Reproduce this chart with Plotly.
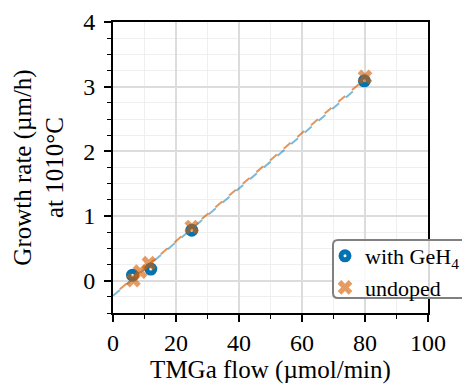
import plotly.graph_objects as go

# data
ge_flow = [6.2, 12.0, 25.0, 79.8]
ge_rate = [0.085, 0.18, 0.78, 3.09]
un_flow = [6.5, 8.6, 11.4, 25.0, 80.0]
un_rate = [0.01, 0.14, 0.27, 0.83, 3.15]
fit_flow = [0.0, 80.0]
ge_fit = [-0.235, 3.085]
un_fit = [-0.225, 3.12]

x_ticks = [0, 20, 40, 60, 80, 100]
y_ticks = [0, 1, 2, 3, 4]

FONT = "Liberation Serif"
BLUE = "#0173b2"
ORANGE_A = "rgba(213,94,0,0.62)"
BLUE_LINE = "rgba(1,115,178,0.5)"
ORANGE_LINE = "rgba(213,94,0,0.65)"

fig = go.Figure()
fig.add_trace(go.Scatter(x=fit_flow, y=ge_fit, mode="lines",
                         line=dict(color=BLUE_LINE, width=2, dash="9px,9px"),
                         showlegend=False, hoverinfo="skip"))
fig.add_trace(go.Scatter(x=fit_flow, y=un_fit, mode="lines",
                         line=dict(color=ORANGE_LINE, width=2, dash="0px,9px,9px,0px"),
                         showlegend=False, hoverinfo="skip"))
fig.add_trace(go.Scatter(x=ge_flow, y=ge_rate, mode="markers", name="with GeH<sub>4</sub>",
                         marker=dict(symbol="circle-open", size=8, color=BLUE,
                                     line=dict(width=5, color=BLUE))))
fig.add_trace(go.Scatter(x=un_flow, y=un_rate, mode="markers", name="undoped",
                         marker=dict(symbol="x", size=13, color=ORANGE_A,
                                     line=dict(width=0))))

# plot area in screen pixels (page has an 8px body margin)
OFF = 8
L, R, T, B = 113, 428, 22, 313
W, H = R - L, B - T
FIG_W, FIG_H = 470 - OFF, 385 - OFF
def px(x):
    return (x - L) / W
def py(y):
    return (B - y) / H
x0, x1, y0, y1, r = 333, 468, 240, 298, 5
path = (f"M {px(x0+r)},{py(y0)} L {px(x1-r)},{py(y0)} Q {px(x1)},{py(y0)} {px(x1)},{py(y0+r)} "
        f"L {px(x1)},{py(y1-r)} Q {px(x1)},{py(y1)} {px(x1-r)},{py(y1)} "
        f"L {px(x0+r)},{py(y1)} Q {px(x0)},{py(y1)} {px(x0)},{py(y1-r)} "
        f"L {px(x0)},{py(y0+r)} Q {px(x0)},{py(y0)} {px(x0+r)},{py(y0)} Z")
fig.add_shape(type="path", path=path, xref="paper", yref="paper",
              line=dict(color="#808080", width=2), fillcolor="rgba(255,255,255,0.85)",
              layer="above")

grid_major = dict(showgrid=True, gridcolor="#dcdcdc", gridwidth=1.5)
line_style = dict(showline=True, linecolor="black", linewidth=2, mirror=True,
                  ticks="outside", ticklen=7, tickwidth=2, tickcolor="black",
                  zeroline=False, automargin=False)

fig.update_xaxes(range=[0, 100], tickvals=x_ticks,
                 tickfont=dict(family=FONT, size=24, color="black"),
                 title=dict(text="TMGa flow (µmol/min)", font=dict(family=FONT, size=25, color="black"), standoff=4),
                 minor=dict(ticks="outside", ticklen=4, tickwidth=1, tickcolor="black", dtick=10,
                            showgrid=True, gridcolor="#efefef", gridwidth=1),
                 **grid_major, **line_style)
fig.update_yaxes(range=[-0.5, 4], tickvals=y_ticks, ticklabelstandoff=4,
                 tickfont=dict(family=FONT, size=24, color="black"),
                 title=dict(text="Growth rate (µm/h)<br>at 1010°C", font=dict(family=FONT, size=25, color="black"), standoff=12),
                 minor=dict(ticks="outside", ticklen=4, tickwidth=1, tickcolor="black", dtick=0.25,
                            showgrid=True, gridcolor="#efefef", gridwidth=1),
                 **grid_major, **line_style)

fig.update_layout(
    width=FIG_W, height=FIG_H,
    margin=dict(l=L - OFF, r=FIG_W - (R - OFF), t=T - OFF, b=FIG_H - (B - OFF), pad=0,
                autoexpand=False),
    paper_bgcolor="white", plot_bgcolor="white",
    font=dict(family=FONT, size=22, color="black"),
    legend=dict(x=px(325), y=py(235), xanchor="left", yanchor="top",
                bgcolor="rgba(0,0,0,0)", borderwidth=0,
                font=dict(family=FONT, size=22, color="black"),
                tracegroupgap=0, itemwidth=30),
    showlegend=True,
)

fig.write_html("out.html")
